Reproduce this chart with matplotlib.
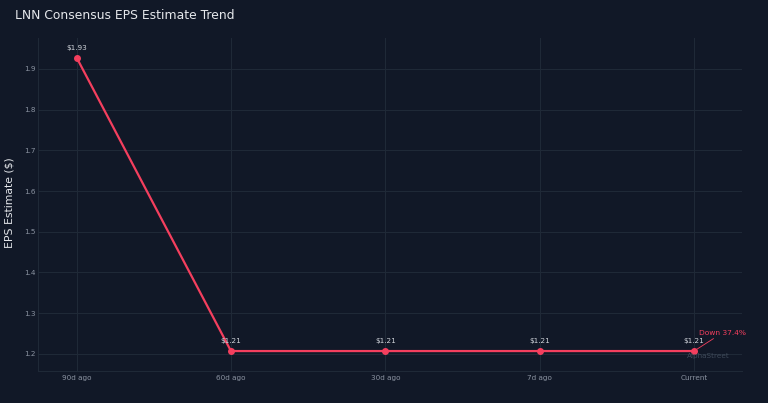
import numpy as np
import matplotlib.pyplot as plt

# data
periods = ['90d ago', '60d ago', '30d ago', '7d ago', 'Current']
eps = [1.928, 1.207, 1.207, 1.207, 1.207]
eps_labels = ['$1.93', '$1.21', '$1.21', '$1.21', '$1.21']
yticks = [1.2, 1.3, 1.4, 1.5, 1.6, 1.7, 1.8, 1.9]
change_text = 'Down 37.4%'

bg = '#111827'
grid = '#1f2937'
red = '#f43f5e'
tick_col = '#8b93a1'

fig = plt.figure(figsize=(7.68, 4.03), dpi=100, facecolor=bg)
ax = fig.add_axes([0.0495, 0.0794, 0.9165, 0.8263], facecolor=bg)

x = np.arange(len(periods))
ax.plot(x, eps, color=red, lw=1.6, marker='o', ms=4, zorder=3)
for xi, yi, lab in zip(x, eps, eps_labels):
    ax.annotate(lab, (xi, yi), xytext=(0, 5), textcoords='offset points',
                ha='center', va='bottom', fontsize=5.2, color='#d1d5db')

ax.set_xlim(-0.25, 4.31)
ax.set_ylim(1.158, 1.976)
ax.set_xticks(x)
ax.set_xticklabels(periods)
ax.set_yticks(yticks)
ax.set_yticklabels([f'{v:.1f}' for v in yticks])
ax.tick_params(colors=tick_col, labelsize=5.2, length=0)
ax.tick_params(axis='x', pad=3)
ax.tick_params(axis='y', pad=2)
ax.grid(True, color=grid, lw=0.8)
ax.set_axisbelow(True)
for side in ['top', 'right']:
    ax.spines[side].set_visible(False)
for side in ['left', 'bottom']:
    ax.spines[side].set_color(grid)
    ax.spines[side].set_linewidth(0.8)

fig.text(10 / 768, 1 - 203 / 403, 'EPS Estimate ($)', rotation=90, color='#e5e7eb',
         fontsize=7.8, ha='center', va='center')

# change annotation with arrow from last point
ax.annotate(change_text, (x[-1], eps[-1]), xytext=(20.5, 11), textcoords='offset points',
            ha='center', va='bottom', fontsize=5.4, color=red,
            arrowprops=dict(arrowstyle='-', color=red, lw=0.6, shrinkA=0, shrinkB=2))
ax.text(x[-1] + 0.09, eps[-1] - 0.006, 'AlphaStreet', ha='center', va='top',
        fontsize=5.2, color='#3f4a5a')

fig.text(0.0195, 0.962, 'LNN Consensus EPS Estimate Trend', color='#e5e7eb',
         fontsize=8.9, ha='left', va='center')

fig.savefig('out.png', dpi=100, facecolor=bg)
